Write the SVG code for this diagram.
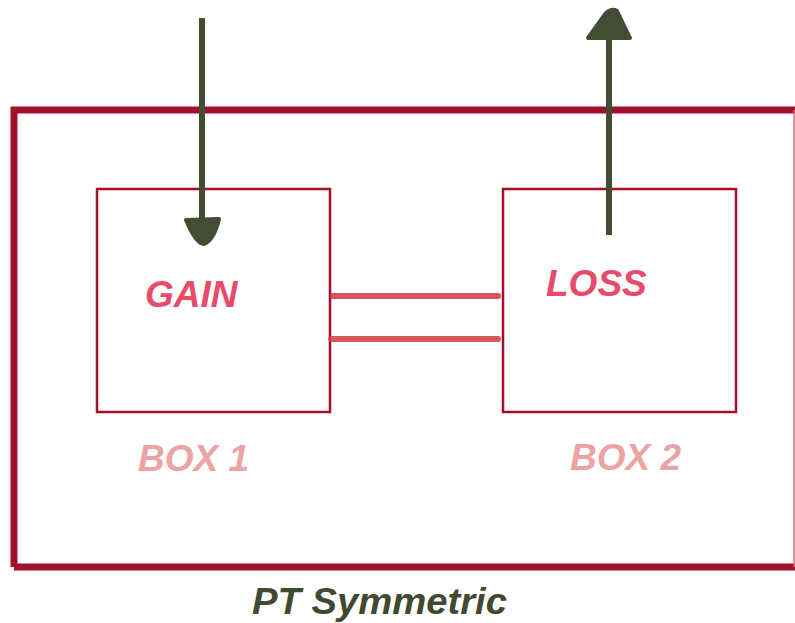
<svg xmlns="http://www.w3.org/2000/svg" width="795" height="623" viewBox="0 0 795 623">
<defs>
<style>
.box{fill:none;stroke:#a50f24;stroke-width:2.5}
.outer{fill:none;stroke:#a0122a;stroke-width:7}
.wire{stroke:#d2444c;stroke-width:6;stroke-linecap:round;opacity:0.9}
.arr{stroke:#434d33;stroke-width:6;fill:none}
.head{fill:#434d33;stroke:#434d33;stroke-width:4;stroke-linejoin:round}
.lbl{font-family:"Liberation Sans",Arial,sans-serif;font-style:italic;font-weight:bold;font-size:37px}
</style>
</defs>
<rect width="795" height="623" fill="#ffffff"/>
<g id="outer">
<path class="outer" d="M14 567 L14 110 L795 110"/>
<path class="outer" d="M14 567 L795 567"/>
<line x1="794" y1="110" x2="794" y2="567" stroke="#d07080" stroke-width="1.5"/>
</g>
<g id="box1">
<rect class="box" x="97" y="189" width="233" height="223"/>
<text class="lbl" x="145" y="307" fill="#e84a6a">GAIN</text>
</g>
<g id="box2">
<rect class="box" x="503" y="189" width="233" height="223"/>
<text class="lbl" x="546" y="296" fill="#e84a6a" font-size="38">LOSS</text>
</g>
<g id="label1"><text class="lbl" x="138" y="471" fill="#eba3a3">BOX 1</text></g>
<g id="label2"><text class="lbl" x="570" y="470" fill="#eba3a3">BOX 2</text></g>
<g id="title"><text class="lbl" x="252" y="614" fill="#3f4a30" font-size="38" textLength="255" lengthAdjust="spacingAndGlyphs">PT Symmetric</text></g>
<g id="connectors">
<line class="wire" x1="333" y1="296" x2="498" y2="296"/>
<line class="wire" x1="331" y1="339" x2="498" y2="339"/>
<line class="arr" x1="202" y1="18" x2="202" y2="220"/>
<path class="head" d="M186 220 L219 219 Q214 240 204 244 Q196 244 186 220 Z"/>
<line class="arr" x1="609" y1="235" x2="609" y2="36"/>
<path class="head" d="M588 38 L630 38 L617 11 Q612 8 606 13 Z"/>
</g>
</svg>
